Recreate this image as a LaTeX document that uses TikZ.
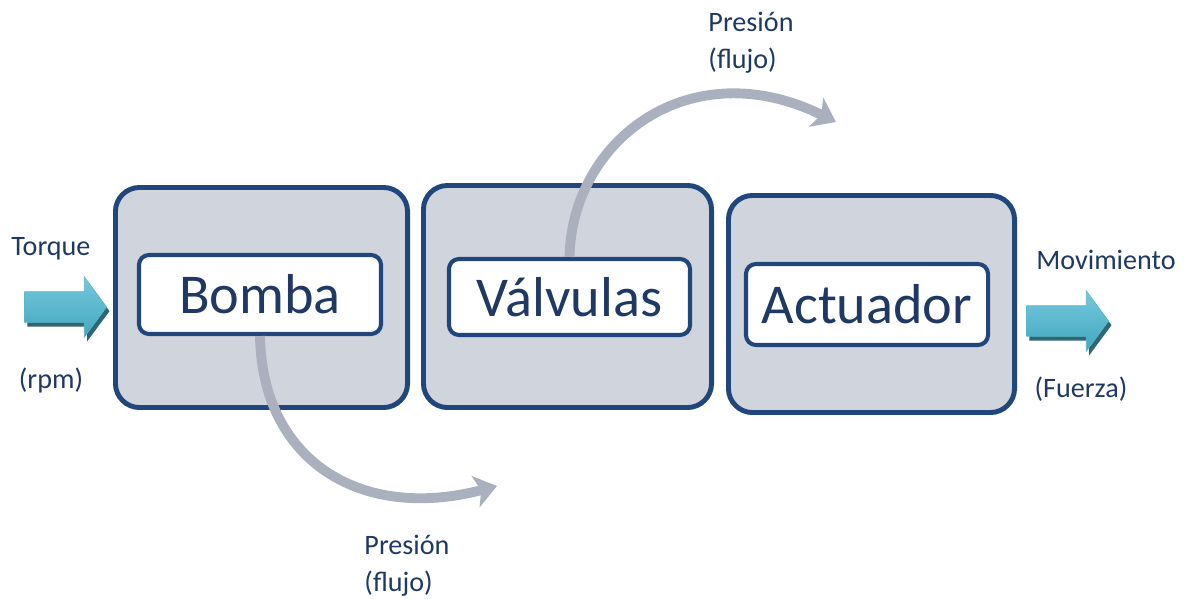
\documentclass[tikz,border=0pt]{standalone}
\usepackage{fontspec}
\setmainfont{Carlito}
\usetikzlibrary{arrows.meta,shapes.arrows,shadows}
\definecolor{navy}{HTML}{1F3864}
\definecolor{boxline}{HTML}{21467C}
\definecolor{boxfill}{HTML}{D0D4DD}
\definecolor{flowgray}{HTML}{ABB0BE}
\definecolor{cyanlight}{HTML}{74C9DD}
\definecolor{cyandark}{HTML}{43A7C0}
\definecolor{cyanshadow}{HTML}{2D6675}

\begin{document}
\begin{tikzpicture}[x=0.025cm,y=-0.025cm,
    outerbox/.style={draw=boxline,line width=3.5pt,fill=boxfill,
      rounded corners=0.6cm,inner sep=0pt},
    innerbox/.style={draw=boxline,line width=2.9pt,fill=white,
      rounded corners=0.25cm,inner sep=0pt,text=navy,
      font=\fontsize{40}{48}\selectfont},
    sidetext/.style={text=navy,font=\fontsize{20}{26}\selectfont,align=left},
    bigarrow/.style={single arrow,inner xsep=0pt,inner ysep=0.375cm,
      single arrow head extend=0.375cm,single arrow tip angle=107,
      minimum height=2.05cm,top color=cyanlight,bottom color=cyandark,
      draw=cyandark!85!white,line width=0.4pt,
      drop shadow={shadow xshift=2pt,shadow yshift=-3pt,
        fill=cyanshadow,opacity=1}},
    flowarrow/.style={draw=flowgray,line width=7pt,
      -{Stealth[length=0.55cm,width=0.8cm,inset=0.14cm]}}]
    \useasboundingbox (0,0) rectangle (1192,599);
    % blocks
    \node[outerbox,minimum width=7.3cm,minimum height=5.5cm]
      (bombabg) at (261.5,297.5) {};
    \node[outerbox,minimum width=7.2cm,minimum height=5.55cm]
      (valvulasbg) at (567.5,296.5) {};
    \node[outerbox,minimum width=7.15cm,minimum height=5.425cm]
      (actuadorbg) at (871.5,304) {};
    \node[innerbox,minimum width=6.05cm,minimum height=1.975cm]
      (bomba) at (260,294.5) {Bomba};
    \node[innerbox,minimum width=6.025cm,minimum height=1.9cm]
      (valvulas) at (569.5,297) {Válvulas};
    \node[innerbox,minimum width=6.05cm,minimum height=2.025cm]
      (actuador) at (867,304.5) {Actuador};
    % input and output
    \node[bigarrow] (entrada) at (60,307) {};
    \node[bigarrow] (salida) at (1062,321) {};
    \node[sidetext] (torque) at (51,249) {Torque};
    \node[sidetext] (rpm) at (51,380) {(rpm)};
    \node[sidetext] (movimiento) at (1106,260) {Movimiento};
    \node[sidetext] (fuerza) at (1081,389) {(Fuerza)};
    % pressure flows
    \coordinate (botend) at (497,486);
    \coordinate (topend) at (836,122);
    \draw[flowarrow] (bomba.south) .. controls (262,460) and (360,522) .. (botend);
    \draw[flowarrow] (valvulas.north) .. controls (572,140) and (690,50) .. (topend);
    \node[sidetext] (presionbot) at (407,566) {Presión\\(flujo)};
    \node[sidetext] (presiontop) at (751,43) {Presión\\(flujo)};
\end{tikzpicture}
\end{document}
